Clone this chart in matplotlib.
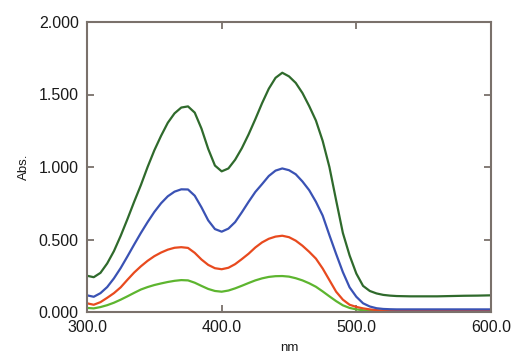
import matplotlib
matplotlib.use("Agg")
import matplotlib.pyplot as plt

wavelength = [300, 305, 310, 315, 320, 325, 330, 335, 340, 345, 350, 355, 360, 365, 370, 375,
              380, 385, 390, 395, 400, 405, 410, 415, 420, 425, 430, 435, 440, 445, 450, 455,
              460, 465, 470, 475, 480, 485, 490, 495, 500, 505, 510, 515, 520, 525, 530,
              540, 550, 560, 570, 580, 590, 600]

abs_darkgreen = [0.250, 0.240, 0.270, 0.335, 0.420, 0.525, 0.640, 0.760, 0.875, 1.000, 1.115, 1.215,
                 1.305, 1.370, 1.410, 1.418, 1.375, 1.265, 1.125, 1.010, 0.970, 0.990, 1.050, 1.130,
                 1.225, 1.330, 1.440, 1.540, 1.615, 1.650, 1.625, 1.580, 1.510, 1.420, 1.320, 1.180,
                 1.000, 0.770, 0.545, 0.390, 0.265, 0.180, 0.145, 0.128, 0.118, 0.113, 0.110,
                 0.108, 0.108, 0.108, 0.110, 0.112, 0.113, 0.115]

abs_blue = [0.115, 0.105, 0.130, 0.172, 0.232, 0.303, 0.383, 0.465, 0.545, 0.620, 0.690, 0.750,
            0.798, 0.830, 0.846, 0.845, 0.802, 0.722, 0.632, 0.572, 0.554, 0.575, 0.620, 0.688,
            0.760, 0.828, 0.882, 0.938, 0.975, 0.990, 0.978, 0.950, 0.900, 0.840, 0.760, 0.665,
            0.530, 0.400, 0.275, 0.170, 0.105, 0.060, 0.038, 0.026, 0.021, 0.019, 0.018,
            0.018, 0.018, 0.018, 0.018, 0.018, 0.018, 0.018]

abs_red = [0.060, 0.050, 0.068, 0.098, 0.130, 0.170, 0.222, 0.272, 0.315, 0.353, 0.385, 0.410,
           0.430, 0.443, 0.447, 0.442, 0.408, 0.362, 0.325, 0.302, 0.295, 0.305, 0.330, 0.365,
           0.402, 0.445, 0.480, 0.505, 0.520, 0.526, 0.516, 0.492, 0.457, 0.415, 0.368, 0.300,
           0.220, 0.140, 0.085, 0.050, 0.035, 0.025, 0.018, 0.013, 0.010, 0.009, 0.008,
           0.008, 0.008, 0.008, 0.008, 0.008, 0.008, 0.008]

abs_lightgreen = [0.028, 0.025, 0.034, 0.047, 0.064, 0.085, 0.108, 0.132, 0.155, 0.172, 0.186, 0.197,
                  0.207, 0.215, 0.220, 0.218, 0.202, 0.180, 0.159, 0.145, 0.140, 0.148, 0.163, 0.181,
                  0.200, 0.218, 0.232, 0.242, 0.247, 0.248, 0.244, 0.233, 0.218, 0.198, 0.174, 0.142,
                  0.108, 0.075, 0.046, 0.028, 0.018, 0.012, 0.008, 0.005, 0.004, 0.003, 0.003,
                  0.003, 0.003, 0.003, 0.003, 0.003, 0.003, 0.003]

x_ticks = [300, 400, 500, 600]
x_ticklabels = ["300.0", "400.0", "500.0", "600.0"]
y_ticks = [0.0, 0.5, 1.0, 1.5, 2.0]
y_ticklabels = ["0.000", "0.500", "1.000", "1.500", "2.000"]

plt.rcParams['font.family'] = ['Liberation Sans', 'DejaVu Sans']

fig = plt.figure(figsize=(5.19, 3.64), dpi=100)
ax = fig.add_axes([87/519, 1-312/364, (491-87)/519, (312-22)/364])

lw = 1.6
kw = dict(lw=lw, solid_joinstyle="round", solid_capstyle="round")
ax.plot(wavelength, abs_lightgreen, color="#5db52f", **kw)
ax.plot(wavelength, abs_red, color="#e84a1e", **kw)
ax.plot(wavelength, abs_blue, color="#3a52b4", **kw)
ax.plot(wavelength, abs_darkgreen, color="#2f6a2c", **kw)

ax.set_xlim(300, 600)
ax.set_ylim(0, 2.0)
ax.set_xticks(x_ticks)
ax.set_xticklabels(x_ticklabels)
ax.set_yticks(y_ticks)
ax.set_yticklabels(y_ticklabels)

spine_c = "#7a716b"
for s in ax.spines.values():
    s.set_color(spine_c)
    s.set_linewidth(1.5)
ax.tick_params(direction="in", length=5, width=1.3, color=spine_c,
               top=True, right=True, labelsize=11.5, labelcolor="#1a1a1a")
ax.tick_params(axis="x", pad=6)
ax.tick_params(axis="y", pad=6)

ax.set_xlabel("nm", fontsize=9.5, color="#1a1a1a", labelpad=5)
ax.set_ylabel("Abs.", fontsize=9.5, color="#1a1a1a", labelpad=6)

fig.savefig("out.png", dpi=100)
